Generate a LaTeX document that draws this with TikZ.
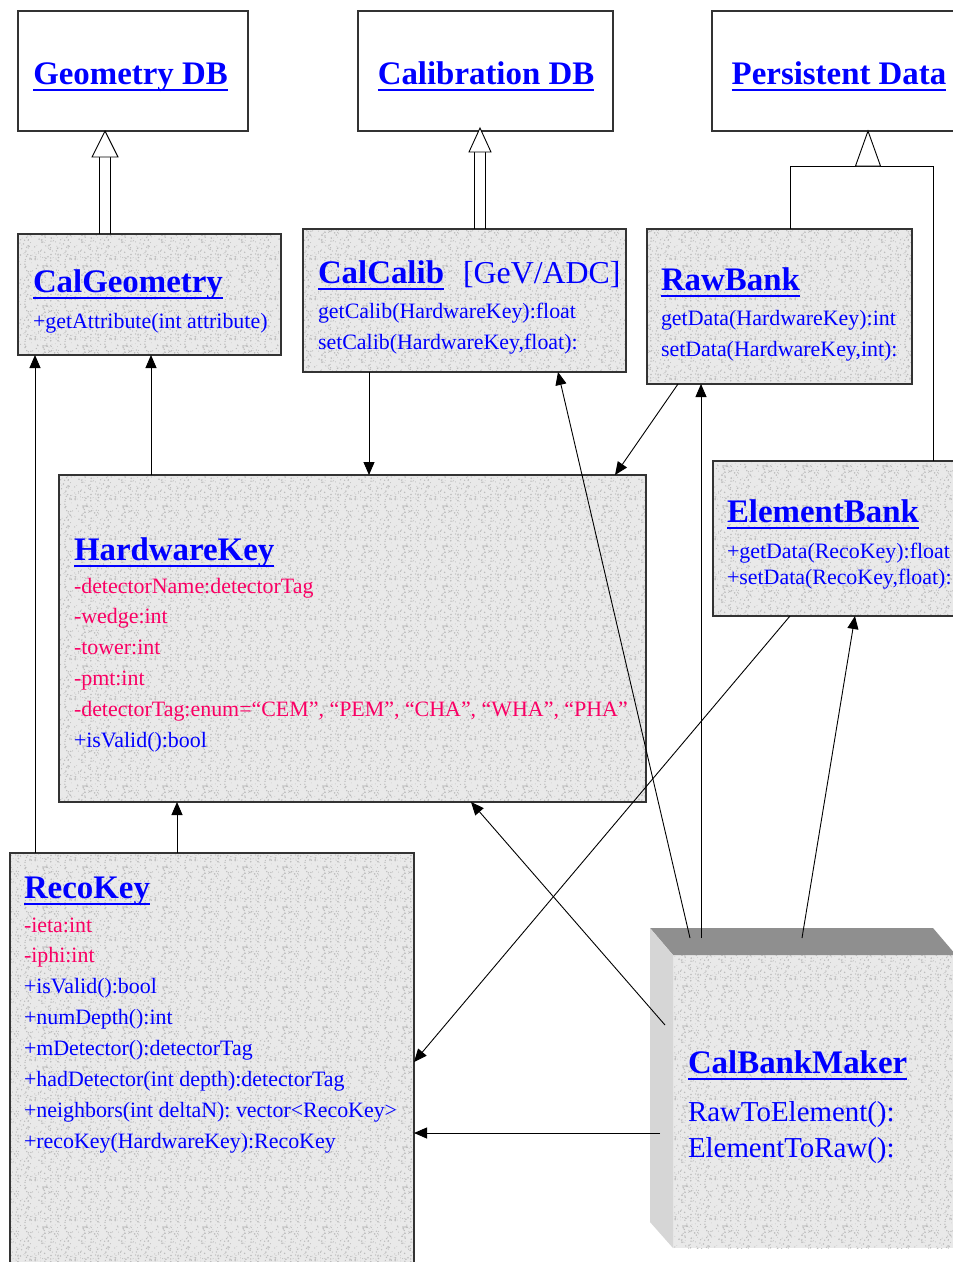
\documentclass[tikz,border=0pt]{standalone}
\usepackage{fontspec}
\setmainfont{Liberation Serif}
\usetikzlibrary{arrows.meta,calc,patterns}
\definecolor{ublue}{RGB}{0,0,255}
\definecolor{upink}{RGB}{250,0,100}
\definecolor{boxgray}{RGB}{233,233,233}
\definecolor{speck}{RGB}{188,188,188}
\definecolor{topgray}{RGB}{143,143,143}
\definecolor{sidegray}{RGB}{214,214,214}
\pgfdeclarepatternformonly{granite}{\pgfqpoint{0bp}{0bp}}{\pgfqpoint{40bp}{40bp}}{\pgfqpoint{40bp}{40bp}}{%
  \pgfmathsetseed{7}%
  \foreach \i in {1,...,150}{%
    \pgfmathsetmacro{\px}{rnd*40}%
    \pgfmathsetmacro{\py}{rnd*40}%
    \pgfmathsetmacro{\pr}{0.35+rnd*0.6}%
    \pgfpathcircle{\pgfpoint{\px bp}{\py bp}}{\pr bp}%
    \pgfusepath{fill}}%
}
\tikzset{
  box/.style={draw=black!80, line width=1.2bp, preaction={fill=boxgray}, pattern=granite, pattern color=speck, anchor=north west, inner sep=0, outer sep=0},
  dbbox/.style={draw=black!80, line width=1.2bp, fill=white, anchor=north west, inner sep=0, outer sep=0},
  ttl/.style={font=\fontsize{33}{36}\selectfont\bfseries, text=ublue, anchor=base west, inner sep=0, outer sep=0},
  ctl/.style={ttl, anchor=base},
  mth/.style={font=\fontsize{22}{24}\selectfont, text=ublue, anchor=base west, inner sep=0, outer sep=0},
  attr/.style={mth, text=upink},
  big/.style={mth, font=\fontsize{29}{32}\selectfont},
  conn/.style={line width=0.9bp, -{Triangle[length=13bp,width=11bp]}},
  gen/.style={line width=0.9bp, fill=white},
  uline/.style={ublue, line width=2.8bp},
}
\newcommand{\ulnode}[1]{\draw[uline] ($(#1.base west)+(0,6)$) -- ($(#1.base east)+(0,6)$);}
\begin{document}
\begin{tikzpicture}[x=1bp,y=-1bp]
\clip (0,0) rectangle (953,1262);
\fill[white] (0,0) rectangle (953,1262);
% ---------- boxes ----------
\node[dbbox, minimum width=230bp, minimum height=120bp] (gdb) at (18,11) {};
\node[dbbox, minimum width=255bp, minimum height=120bp] (cdb) at (358,11) {};
\node[dbbox, minimum width=260bp, minimum height=120bp] (pdb) at (712,11) {};
\node[box, minimum width=263bp, minimum height=121bp] (cg) at (18,234) {};
\node[box, minimum width=323bp, minimum height=143bp] (cc) at (303,229) {};
\node[box, minimum width=265bp, minimum height=155bp] (rb) at (647,229) {};
\node[box, minimum width=587bp, minimum height=327bp] (hk) at (59,475) {};
\node[box, minimum width=260bp, minimum height=155bp] (eb) at (713,461) {};
\node[box, minimum width=404bp, minimum height=430bp] (rk) at (10,853) {};
% CalBankMaker 3D block
\node[box, draw=none, minimum width=300bp, minimum height=293bp] (cbm) at (673,955) {};
\fill[topgray] ($(cbm.north west)+(-23,-27)$) -- ($(cbm.north west)+(260,-27)$) -- ($(cbm.north west)+(283,0)$) -- (cbm.north west) -- cycle;
\fill[sidegray] ($(cbm.north west)+(-23,-27)$) -- (cbm.north west) -- (cbm.south west) -- ($(cbm.south west)+(-23,-26)$) -- cycle;
% ---------- titles ----------
\node[ctl] (tgdb) at (130.5,84) {Geometry DB}; \ulnode{tgdb}
\node[ctl] (tcdb) at (486,84) {Calibration DB}; \ulnode{tcdb}
\node[ctl] (tpdb) at (839,84) {Persistent Data}; \ulnode{tpdb}
\node[ttl] (tcg) at (33,292) {CalGeometry}; \ulnode{tcg}
\node[mth] at (33,328) {+getAttribute(int attribute)};
\node[ttl] (tcc) at (318,283) {CalCalib}; \ulnode{tcc}
\node[mth, font=\fontsize{32}{34}\selectfont] at (463,283) {[GeV/ADC]};
\node[mth] at (318,318) {getCalib(HardwareKey):float};
\node[mth] at (318,349) {setCalib(HardwareKey,float):};
\node[ttl] (trb) at (661,290) {RawBank}; \ulnode{trb}
\node[mth] at (661,325) {getData(HardwareKey):int};
\node[mth] at (661,356) {setData(HardwareKey,int):};
\node[ttl] (thk) at (74,560) {HardwareKey}; \ulnode{thk}
\node[attr] at (74,593) {-detectorName:detectorTag};
\node[attr] at (74,623) {-wedge:int};
\node[attr] at (74,654) {-tower:int};
\node[attr] at (74,685) {-pmt:int};
\node[attr] at (74,716) {-detectorTag:enum=“CEM”, “PEM”, “CHA”, “WHA”, “PHA”};
\node[mth] at (74,747) {+isValid():bool};
\node[ttl] (teb) at (727,522) {ElementBank}; \ulnode{teb}
\node[mth] at (727,558) {+getData(RecoKey):float};
\node[mth] at (727,584) {+setData(RecoKey,float):};
\node[ttl] (trk) at (24,898) {RecoKey}; \ulnode{trk}
\node[attr] at (24,932) {-ieta:int};
\node[attr] at (24,962) {-iphi:int};
\node[mth] at (24,993) {+isValid():bool};
\node[mth] at (24,1024) {+numDepth():int};
\node[mth] at (24,1055) {+mDetector():detectorTag};
\node[mth] at (24,1086) {+hadDetector(int depth):detectorTag};
\node[mth] at (24,1117) {+neighbors(int deltaN): vector<RecoKey>};
\node[mth] at (24,1148) {+recoKey(HardwareKey):RecoKey};
\node[ttl] (tcbm) at (688,1073) {CalBankMaker}; \ulnode{tcbm}
\node[big] at (688,1121) {RawToElement():};
\node[big] at (688,1157) {ElementToRaw():};
% ---------- generalisations ----------
\coordinate (g1) at ($(gdb.south west)+(87,0)$);
\coordinate (g1l) at ($(g1)+(-5.5,26)$);
\coordinate (g1r) at ($(g1)+(5.5,26)$);
\draw[gen] (g1l) -- (g1l |- cg.north);
\draw[gen] (g1r) -- (g1r |- cg.north);
\draw[gen] (g1) -- ++(-13,26) -- ++(26,0) -- cycle;
\coordinate (g2) at ($(cdb.south west)+(122,-3)$);
\coordinate (g2l) at ($(g2)+(-5.5,24)$);
\coordinate (g2r) at ($(g2)+(5.5,24)$);
\draw[gen] (g2l) -- (g2l |- cc.north);
\draw[gen] (g2r) -- (g2r |- cc.north);
\draw[gen] (g2) -- ++(-11,24) -- ++(22,0) -- cycle;
\coordinate (g3) at ($(pdb.south west)+(156,0)$);
\coordinate (g3b) at ($(g3)+(0,35)$);
\coordinate (rbt) at ($(rb.north west)+(143,0)$);
\coordinate (ebt) at ($(eb.north west)+(220,0)$);
\draw[line width=0.9bp] (rbt) -- (rbt |- g3b) -- (ebt |- g3b) -- (ebt);
\draw[gen] (g3) -- ++(-12.5,35) -- ++(25,0) -- cycle;
% ---------- associations ----------
\coordinate (t1) at ($(cbm.north west)+(17,-17)$);
\coordinate (t2) at ($(cbm.north west)+(28,-17)$);
\coordinate (t3) at ($(cbm.north west)+(129,-17)$);
\coordinate (l1) at ($(cbm.north west)+(-8,70)$);
\coordinate (l2) at ($(cbm.north west)+(-13,178)$);
\coordinate (a1) at ($(rk.north west)+(25,0)$);
\draw[conn] (a1) -- (a1 |- cg.south);
\coordinate (a2) at ($(hk.north west)+(92,0)$);
\draw[conn] (a2) -- (a2 |- cg.south);
\coordinate (a3) at ($(cc.south west)+(66,0)$);
\draw[conn] (a3) -- (a3 |- hk.north);
\draw[conn] (t1) -- ($(cc.south west)+(255,0)$);
\draw[conn] ($(rb.south west)+(31,0)$) -- ($(hk.north west)+(556,0)$);
\draw[conn] (t2) -- (t2 |- rb.south);
\draw[conn] ($(eb.south west)+(77,0)$) -- ($(rk.north east)+(0,209)$);
\draw[conn] (t3) -- ($(eb.south west)+(142,0)$);
\draw[conn] (l1) -- ($(hk.south west)+(412,0)$);
\draw[conn] (l2) -- (l2 -| rk.east);
\coordinate (a4) at ($(rk.north west)+(167,0)$);
\draw[conn] (a4) -- (a4 |- hk.south);
\end{tikzpicture}
\end{document}
